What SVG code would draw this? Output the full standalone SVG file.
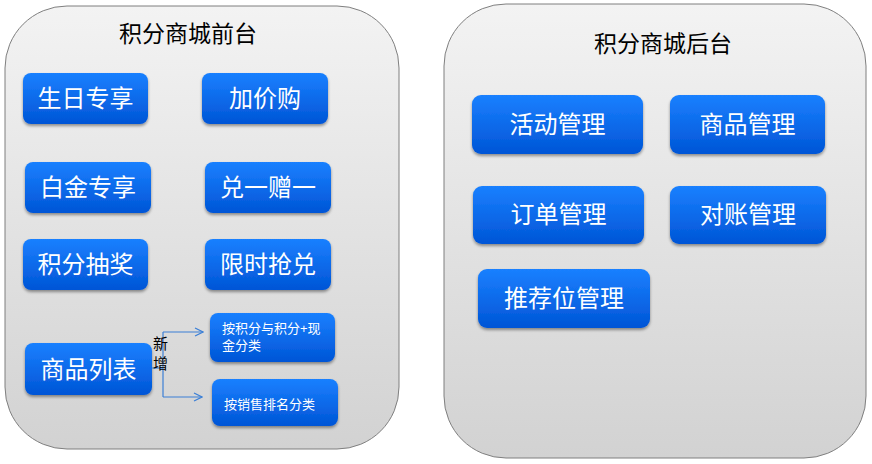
<svg xmlns="http://www.w3.org/2000/svg" width="872" height="464" viewBox="0 0 872 464">
<defs>
<linearGradient id="bg" x1="0" y1="0" x2="0" y2="1">
<stop offset="0" stop-color="#f3f3f3"/>
<stop offset="1" stop-color="#d2d2d2"/>
</linearGradient>
<linearGradient id="btn" x1="0" y1="0" x2="0" y2="1">
<stop offset="0" stop-color="#1a80ff"/>
<stop offset="1" stop-color="#0055d6"/>
</linearGradient>
<filter id="sh" x="-10%" y="-10%" width="120%" height="130%">
<feGaussianBlur in="SourceAlpha" stdDeviation="1.5"/>
<feOffset dx="0" dy="2" result="b"/>
<feComponentTransfer><feFuncA type="linear" slope="0.4"/></feComponentTransfer>
<feMerge><feMergeNode/><feMergeNode in="SourceGraphic"/></feMerge>
</filter>
<marker id="arr" markerWidth="10" markerHeight="10" refX="9" refY="5" orient="auto" markerUnits="userSpaceOnUse">
<path d="M1,1 L9,5 L1,9" fill="none" stroke="#3b7fd6" stroke-width="1.2"/>
</marker>
</defs>
<style>
.panel{fill:url(#bg);stroke:#7f7f7f;stroke-width:1}
.node rect{fill:url(#btn);filter:url(#sh)}
.t{font-family:"Liberation Sans","Noto Sans CJK SC",sans-serif;fill:#fff;font-size:24px;text-anchor:middle}
.s{font-family:"Liberation Sans","Noto Sans CJK SC",sans-serif;fill:#fff;font-size:13px}
.h{font-family:"Liberation Sans","Noto Sans CJK SC",sans-serif;fill:#000;font-size:23px;text-anchor:middle}
.lbl{font-family:"Liberation Sans","Noto Sans CJK SC",sans-serif;fill:#000;font-size:15px}
.c{fill:none;stroke:#3b7fd6;stroke-width:1.2}
</style>
<g id="frontend">
<rect class="panel" x="5" y="6" width="394" height="443" rx="62" ry="62"/>
<text class="h" x="188" y="42">积分商城前台</text>
</g>
<g id="backend">
<rect class="panel" x="444" y="4" width="422" height="454" rx="62" ry="62"/>
<text class="h" x="663" y="52">积分商城后台</text>
</g>
<g id="n-birthday" class="node"><rect x="23" y="73" width="125" height="51" rx="8"/><text class="t" x="85.5" y="107">生日专享</text></g>
<g id="n-addbuy" class="node"><rect x="202" y="73" width="126" height="51" rx="8"/><text class="t" x="265" y="107">加价购</text></g>
<g id="n-platinum" class="node"><rect x="25" y="162" width="126" height="51" rx="8"/><text class="t" x="88" y="196">白金专享</text></g>
<g id="n-buy1get1" class="node"><rect x="205" y="162" width="126" height="51" rx="8"/><text class="t" x="268" y="196">兑一赠一</text></g>
<g id="n-lottery" class="node"><rect x="23" y="239" width="125" height="51" rx="8"/><text class="t" x="85.5" y="273">积分抽奖</text></g>
<g id="n-flash" class="node"><rect x="205" y="239" width="126" height="51" rx="8"/><text class="t" x="268" y="273">限时抢兑</text></g>
<g id="n-list" class="node"><rect x="25" y="343" width="127" height="52" rx="8"/><text class="t" x="88.5" y="378">商品列表</text></g>
<g id="n-cat1" class="node"><rect x="210" y="313" width="125" height="49" rx="8"/><text class="s" x="222" y="333">按积分与积分+现</text><text class="s" x="222" y="350">金分类</text></g>
<g id="n-cat2" class="node"><rect x="212" y="379" width="126" height="47" rx="8"/><text class="s" x="224" y="409">按销售排名分类</text></g>
<g id="n-activity" class="node"><rect x="472" y="95" width="171" height="59" rx="9"/><text class="t" x="557.5" y="133">活动管理</text></g>
<g id="n-goods" class="node"><rect x="670" y="95" width="155" height="59" rx="9"/><text class="t" x="747.5" y="133">商品管理</text></g>
<g id="n-order" class="node"><rect x="473" y="186" width="171" height="58" rx="9"/><text class="t" x="558.5" y="223">订单管理</text></g>
<g id="n-recon" class="node"><rect x="670" y="186" width="156" height="58" rx="9"/><text class="t" x="748" y="223">对账管理</text></g>
<g id="n-recommend" class="node"><rect x="478" y="269" width="172" height="59" rx="9"/><text class="t" x="564" y="307">推荐位管理</text></g>
<g id="connectors">
<path class="c" d="M152,368 H163"/>
<path class="c" d="M163,332 V397"/>
<path class="c" d="M163,332 H203" marker-end="url(#arr)"/>
<path class="c" d="M163,397 H202" marker-end="url(#arr)"/>
<text class="lbl" x="153" y="349">新</text>
<text class="lbl" x="153" y="369">增</text>
</g>
</svg>
